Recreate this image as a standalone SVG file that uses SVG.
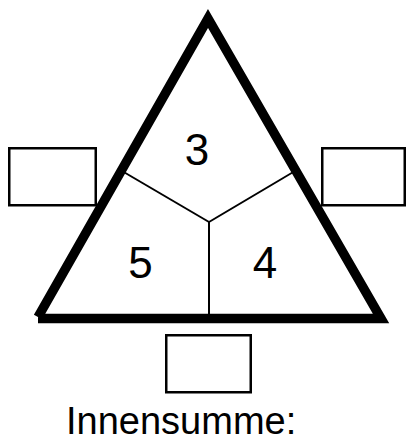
<svg xmlns="http://www.w3.org/2000/svg" width="407" height="441" viewBox="0 0 407 441">
<style>
.box{fill:#fff;stroke:#000;stroke-width:2.5}
.div{stroke:#000;stroke-width:2;fill:none}
.num{font-family:"Liberation Sans",Arial,sans-serif;font-size:44px;fill:#000;text-anchor:middle}
.lbl{font-family:"Liberation Sans",Arial,sans-serif;font-size:38px;fill:#000}
</style>
<rect width="407" height="441" fill="#fff"/>
<g id="connectors">
<line class="div" x1="209" y1="222" x2="122" y2="171"/>
<line class="div" x1="209" y1="222" x2="295" y2="171"/>
<line class="div" x1="209" y1="222" x2="209" y2="316"/>
</g>
<g id="triangle">
<polyline points="38,317 208,18.5 381,318.5 38,318.5" fill="none" stroke="#000" stroke-width="9.5" stroke-linejoin="miter"/>
</g>
<g id="field-top"><text class="num" x="197" y="165">3</text></g>
<g id="field-left"><text class="num" x="140.5" y="278">5</text></g>
<g id="field-right"><text class="num" x="265" y="278">4</text></g>
<g id="box-left"><rect class="box" x="9.25" y="148.25" width="86.5" height="57"/></g>
<g id="box-right"><rect class="box" x="322.25" y="148.25" width="82.5" height="57"/></g>
<g id="box-bottom"><rect class="box" x="166.25" y="335.25" width="84.5" height="57"/></g>
<g id="label"><text class="lbl" x="66" y="434">Innensumme:</text></g>
</svg>
